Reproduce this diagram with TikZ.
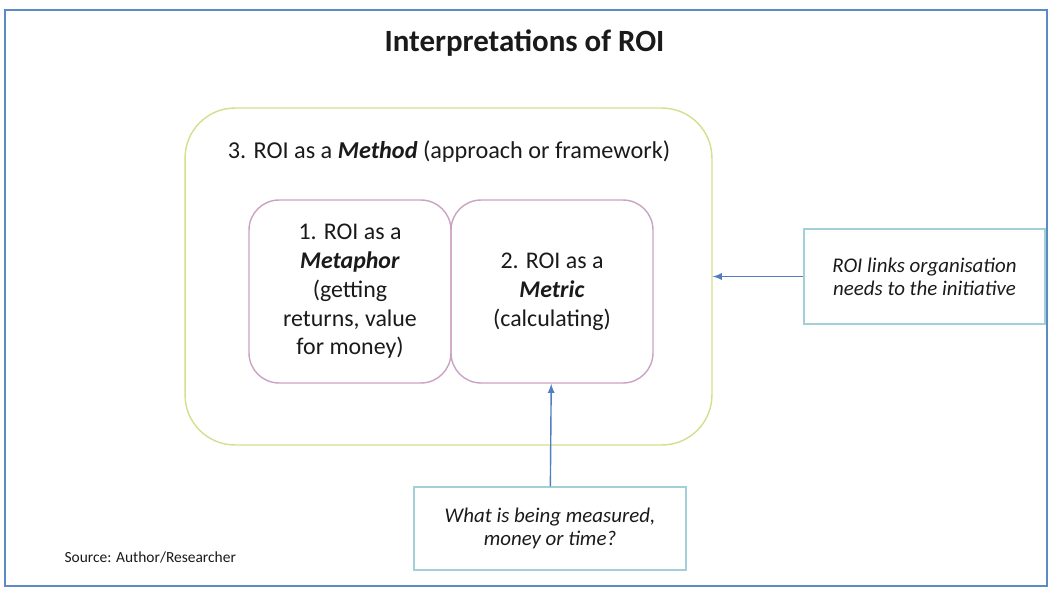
\documentclass[tikz,border=0pt]{standalone}
\usepackage{fontspec}
\setmainfont{Carlito}
\usepackage{tikz}
\definecolor{framecol}{HTML}{5B8BC6}
\definecolor{methodcol}{HTML}{D6DE8C}
\definecolor{innercol}{HTML}{C9A3C4}
\definecolor{notecol}{HTML}{A3CFD8}
\definecolor{arrowcol}{HTML}{4F7FC0}
\definecolor{textcol}{HTML}{1A1A1A}

\begin{document}
\begin{tikzpicture}[>=latex,x=0.02cm,y=-0.02cm,line width=0.8pt,text=textcol,
  inner/.style={draw=innercol,rounded corners=0.6cm,minimum width=4.04cm,minimum height=3.66cm,
    align=center,font=\fontsize{13.6}{16.4}\selectfont},
  note/.style={draw=notecol,minimum width=4.82cm,minimum height=1.9cm,
    align=center,font=\fontsize{11.9}{13.2}\selectfont\itshape}]
\useasboundingbox (0,0) rectangle (1051,589);
\draw[framecol] (5,10) rectangle (1047,586);
\node[font=\fontsize{17.6}{20}\selectfont\bfseries] (title) at (524.5,43) {Interpretations of ROI};
\node[draw=methodcol,rounded corners=1cm,minimum width=10.54cm,minimum height=6.74cm] (method) at (448.5,276.5) {};
\node[font=\fontsize{13.8}{16}\selectfont] (methodlabel) at (449,152) {3. ROI as a \textbf{\textit{Method}} (approach or framework)};
\node[inner] (metaphor) at (350,291.5) {1. ROI as a\\ \textbf{\textit{Metaphor}}\\ (getting\\ returns, value\\ for money)};
\node[inner] (metric) at (552,291.5) {2. ROI as a\\ \textbf{\textit{Metric}}\\ (calculating)};
\node[note] (links) at (924.5,276.5) {ROI links organisation\\ needs to the initiative};
\node[note,minimum width=5.44cm,minimum height=1.66cm] (measured) at (550,528.5) {What is being measured,\\ money or time?};
\node[font=\fontsize{8.8}{10}\selectfont,anchor=west] (source) at (58,557) {Source: Author/Researcher};
\draw[->,arrowcol] (links) -- (method);
\draw[->,arrowcol] (measured) -- (metric);
\end{tikzpicture}
\end{document}
